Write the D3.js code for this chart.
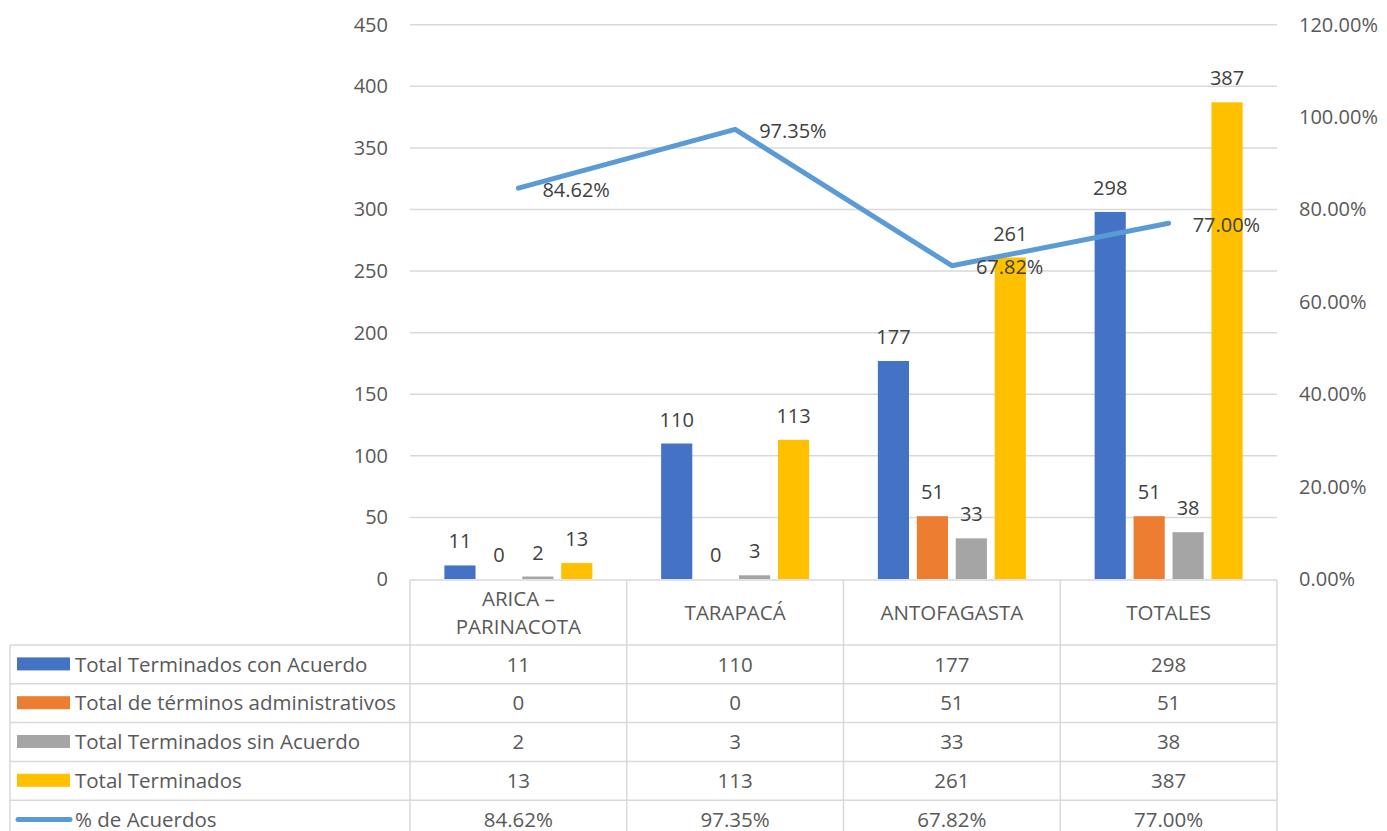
<!DOCTYPE html>
<html lang="es">
<head>
  <meta charset="UTF-8">
  <title>Términos por región</title>
  <style>
    body { margin: 0; background: #fff; }
    svg { display: block; font-family: "Open Sans", Lato, sans-serif; }
    .grid line { stroke: #d9d9d9; stroke-width: 1.5px; }
    .tick-label { fill: #595959; font-size: 20px; }
    .bar-label, .line-label { fill: #404040; font-size: 20px; }
    .cell { fill: #595959; font-size: 20.5px; }
    .tbl line { stroke: #d9d9d9; stroke-width: 1.5px; }
  </style>
</head>
<body>
<script src="https://d3js.org/d3.v7.min.js"></script>
<script>
  const categories = ["ARICA – PARINACOTA", "TARAPACÁ", "ANTOFAGASTA", "TOTALES"];
  const categoryLines = [["ARICA –", "PARINACOTA"], ["TARAPACÁ"], ["ANTOFAGASTA"], ["TOTALES"]];

  const barSeries = [
    "Total Terminados con Acuerdo",
    "Total de términos administrativos",
    "Total Terminados sin Acuerdo",
    "Total Terminados"
  ];
  const conAcuerdo = [11, 110, 177, 298];
  const administrativos = [0, 0, 51, 51];
  const sinAcuerdo = [2, 3, 33, 38];
  const terminados = [13, 113, 261, 387];
  const barValues = [conAcuerdo, administrativos, sinAcuerdo, terminados];

  const lineName = "% de Acuerdos";
  const pctAcuerdos = [0.8462, 0.9735, 0.6782, 0.7700];

  const leftTicks = [0, 50, 100, 150, 200, 250, 300, 350, 400, 450];
  const rightTicks = [0, 0.2, 0.4, 0.6, 0.8, 1.0, 1.2];

  const colors = ["#4472C4", "#ED7D31", "#A5A5A5", "#FFC000"];
  const lineColor = "#5B9BD5";

  const W = 1387, H = 831;
  const plotLeft = 410, plotRight = 1277, plotTop = 24.7, plotBottom = 579;

  const svg = d3.select("body").append("svg").attr("width", W).attr("height", H);

  const x0 = d3.scaleBand().domain(categories).range([plotLeft, plotRight]);
  const groupPad = (x0.bandwidth() - 148) / 2;
  const x1 = d3.scaleBand().domain(barSeries).range([groupPad, groupPad + 148]).paddingInner(0.2);
  const yL = d3.scaleLinear().domain([0, 450]).range([plotBottom, plotTop]);
  const yR = d3.scaleLinear().domain([0, 1.2]).range([plotBottom, plotTop]);

  // gridlines
  svg.append("g").attr("class", "grid")
    .selectAll("line").data(leftTicks.filter(d => d > 0)).join("line")
    .attr("x1", plotLeft).attr("x2", plotRight)
    .attr("y1", d => yL(d)).attr("y2", d => yL(d));

  // left axis labels
  svg.append("g").selectAll("text").data(leftTicks).join("text")
    .attr("class", "tick-label")
    .attr("x", 388).attr("y", d => yL(d)).attr("dy", "0.35em")
    .attr("text-anchor", "end")
    .text(d => d);

  // right axis labels
  const pctFmt = d3.format(".2%");
  svg.append("g").selectAll("text").data(rightTicks).join("text")
    .attr("class", "tick-label")
    .attr("x", 1299).attr("y", d => yR(d)).attr("dy", "0.35em")
    .text(d => pctFmt(d));

  // bars
  const groups = svg.append("g").selectAll("g").data(categories).join("g")
    .attr("transform", c => `translate(${x0(c)},0)`);

  groups.selectAll("rect")
    .data((c, i) => barSeries.map((s, j) => ({ s, j, v: barValues[j][i] })))
    .join("rect")
    .attr("x", d => x1(d.s)).attr("width", x1.bandwidth())
    .attr("y", d => yL(d.v)).attr("height", d => yL(0) - yL(d.v))
    .attr("fill", d => colors[d.j]);

  groups.selectAll("text")
    .data((c, i) => barSeries.map((s, j) => ({ s, j, v: barValues[j][i] })))
    .join("text")
    .attr("class", "bar-label")
    .attr("x", d => x1(d.s) + x1.bandwidth() / 2)
    .attr("y", d => yL(d.v) - 17)
    .attr("text-anchor", "middle")
    .text(d => d.v);

  // line
  const cx = c => x0(c) + x0.bandwidth() / 2;
  const line = d3.line().x((d, i) => cx(categories[i])).y(d => yR(d));
  svg.append("path").datum(pctAcuerdos)
    .attr("d", line)
    .attr("fill", "none").attr("stroke", lineColor)
    .attr("stroke-width", 5).attr("stroke-linecap", "round").attr("stroke-linejoin", "round");

  svg.append("g").selectAll("text").data(pctAcuerdos).join("text")
    .attr("class", "line-label")
    .attr("x", (d, i) => cx(categories[i]) + 24)
    .attr("y", d => yR(d) + 1.5).attr("dy", "0.35em")
    .text(d => pctFmt(d));

  // data table
  const tbl = svg.append("g").attr("class", "tbl");
  const headTop = 580, headBottom = 645, rowH = 38.8;
  const rowNames = [...barSeries, lineName];
  const rowData = [...barValues.map(a => a.map(String)), pctAcuerdos.map(pctFmt)];
  const nRows = rowNames.length;
  const tableBottom = headBottom + rowH * nRows;

  // horizontal lines
  tbl.append("line").attr("x1", plotLeft).attr("x2", plotRight).attr("y1", headTop).attr("y2", headTop);
  d3.range(nRows + 1).forEach(r => {
    const y = headBottom + r * rowH;
    tbl.append("line").attr("x1", 10).attr("x2", plotRight).attr("y1", y).attr("y2", y);
  });
  // vertical lines
  [...categories.map(c => x0(c)), plotRight].forEach(x => {
    tbl.append("line").attr("x1", x).attr("x2", x).attr("y1", headTop).attr("y2", tableBottom);
  });
  tbl.append("line").attr("x1", 10).attr("x2", 10).attr("y1", headBottom).attr("y2", tableBottom);

  // header cells
  categories.forEach((c, i) => {
    const ls = categoryLines[i];
    const mid = (headTop + headBottom) / 2;
    ls.forEach((t, k) => {
      svg.append("text").attr("class", "cell")
        .attr("x", cx(c)).attr("y", mid + (k - (ls.length - 1) / 2) * 28)
        .attr("dy", "0.35em").attr("text-anchor", "middle")
        .text(t);
    });
  });

  // body rows
  rowNames.forEach((name, r) => {
    const yc = headBottom + r * rowH + rowH / 2;
    if (r < barSeries.length) {
      svg.append("rect").attr("x", 17).attr("y", yc - 7).attr("width", 53).attr("height", 13)
        .attr("fill", colors[r]);
    } else {
      svg.append("line").attr("x1", 18).attr("x2", 70).attr("y1", yc).attr("y2", yc)
        .attr("stroke", lineColor).attr("stroke-width", 5).attr("stroke-linecap", "round");
    }
    svg.append("text").attr("class", "cell")
      .attr("x", 75).attr("y", yc).attr("dy", "0.35em")
      .text(name);
    rowData[r].forEach((v, i) => {
      svg.append("text").attr("class", "cell")
        .attr("x", cx(categories[i])).attr("y", yc).attr("dy", "0.35em")
        .attr("text-anchor", "middle")
        .text(v);
    });
  });
</script>
</body>
</html>
